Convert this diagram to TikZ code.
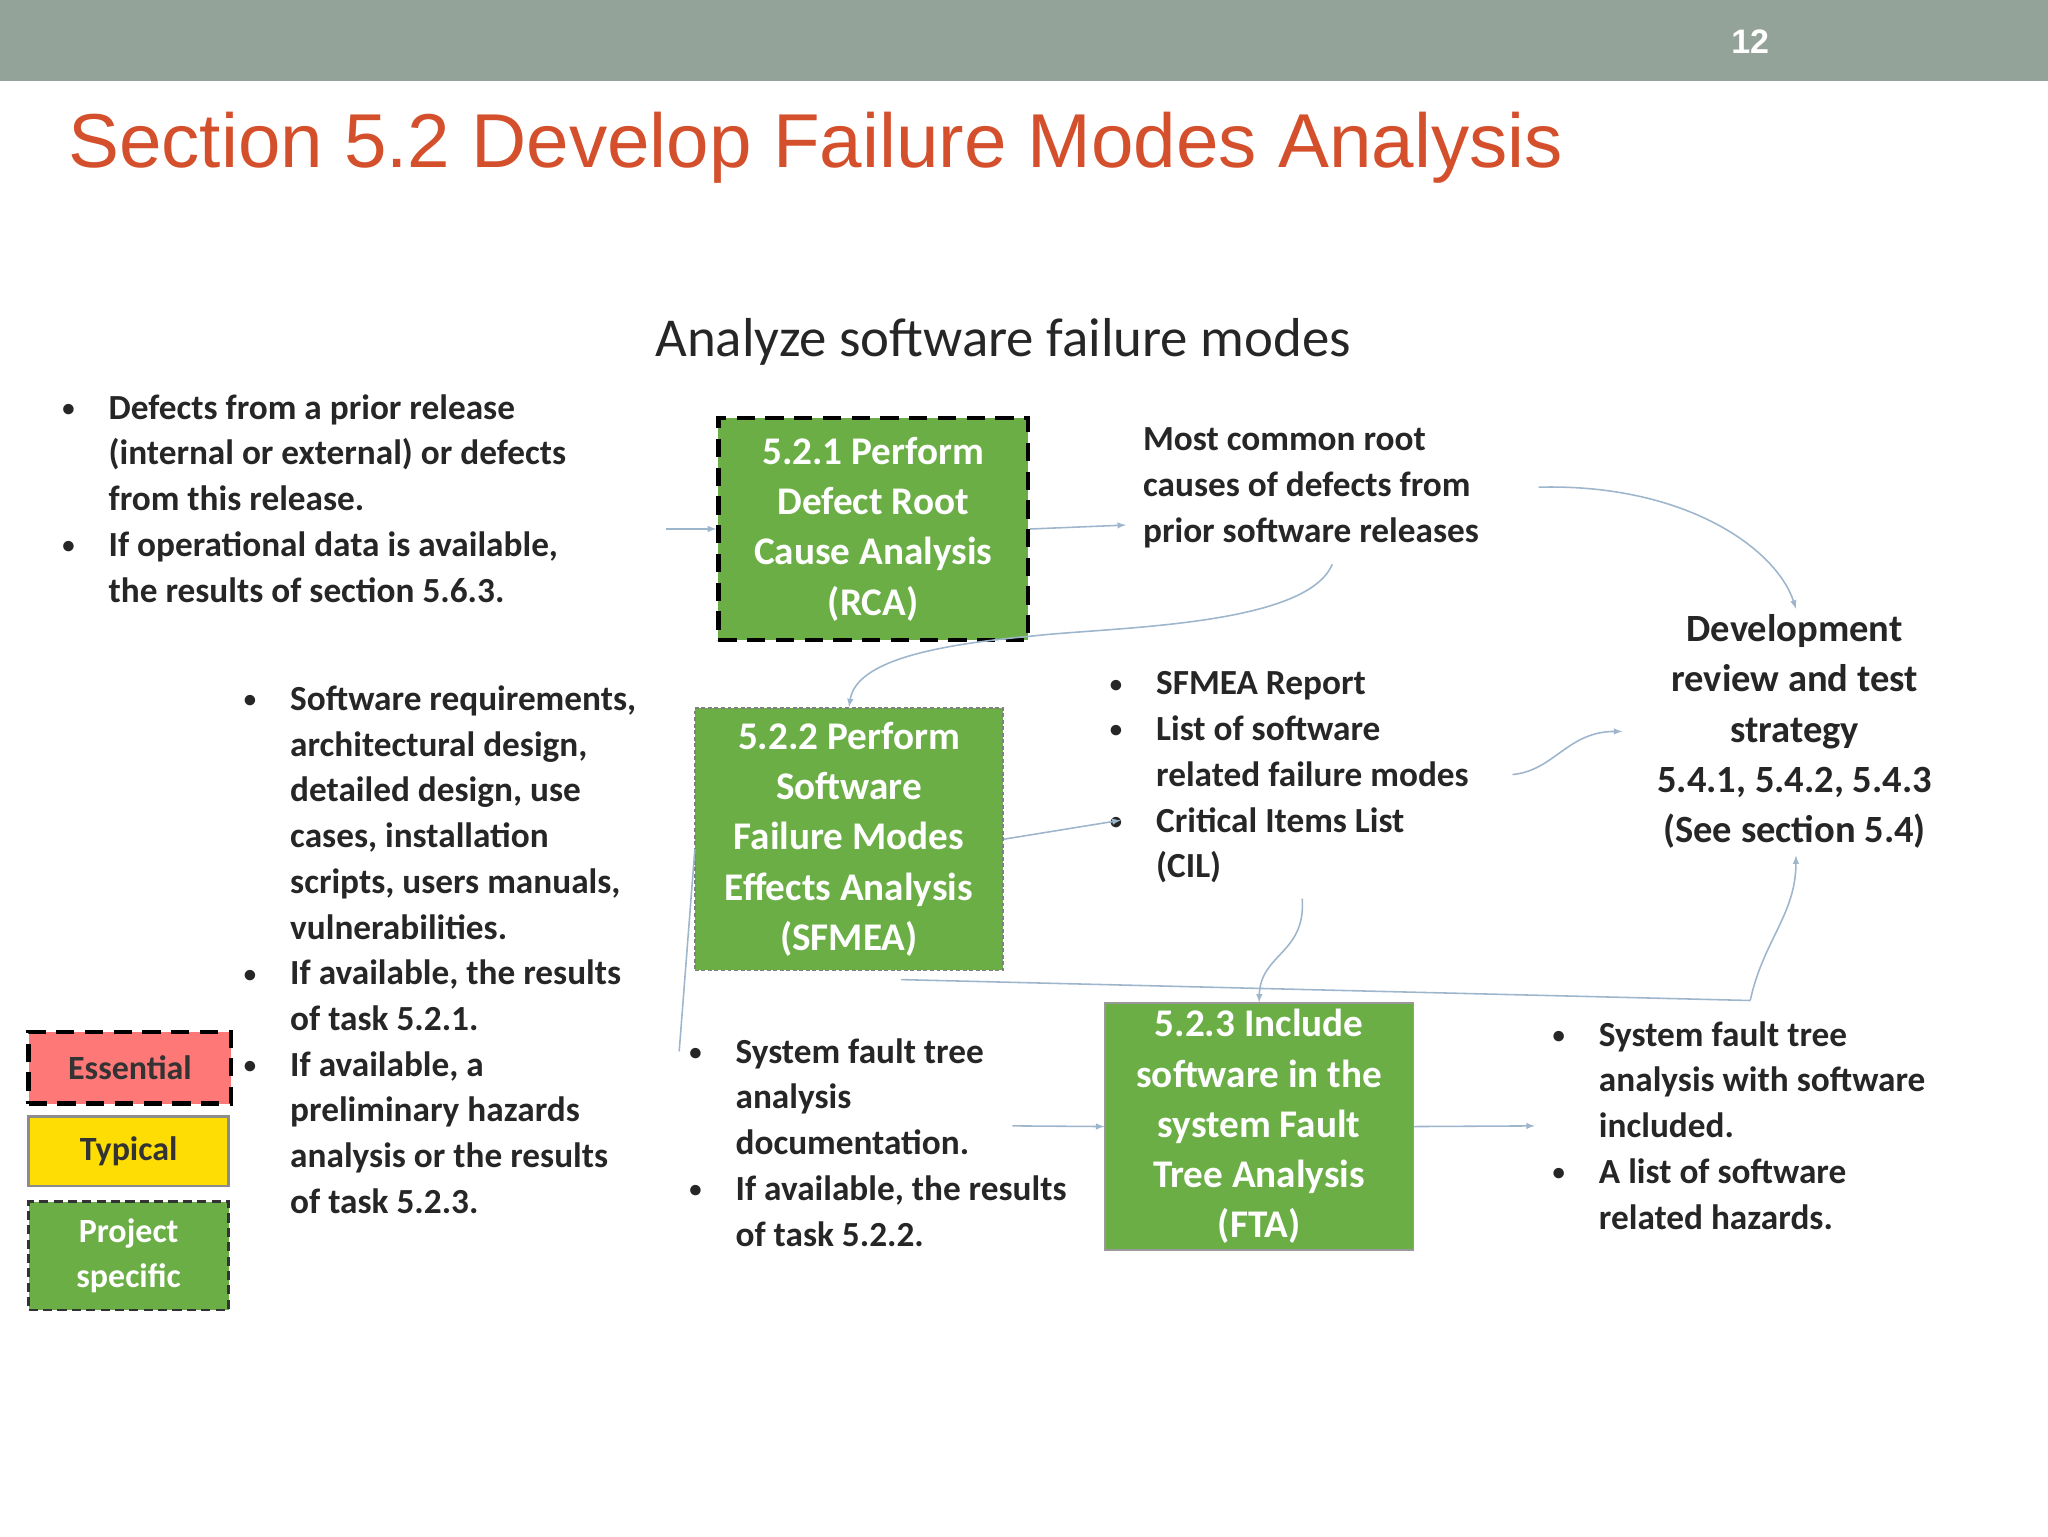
\documentclass[tikz,border=0pt]{standalone}
\usepackage{fontspec}
\setmainfont{Carlito}
\newfontfamily\arialf{Liberation Sans}
\newcommand{\bul}{\llap{\raisebox{2pt}{\scalebox{0.7}{\textbullet}}\hspace{26pt}}}
\begin{document}
\begin{tikzpicture}[x=1pt,y=-1pt,
  txt/.style={anchor=base west,align=left,inner sep=0pt,font=\fontsize{27}{35}\selectfont\bfseries,text=black!85},
  box/.style={fill=boxg,text=white,align=center,inner sep=0pt,font=\fontsize{30}{38.5}\selectfont\bfseries},
  ess/.style={draw=black,line width=3.5pt,dash pattern=on 14pt off 8pt},
  proj/.style={draw=black!80,line width=2pt,dash pattern=on 7pt off 4pt},
  arr/.style={draw=linec,line width=1.2pt,-latex}]
\definecolor{boxg}{HTML}{6AAE45}
\definecolor{linec}{HTML}{9DB6CC}
\definecolor{barg}{HTML}{94A39A}
\definecolor{titc}{HTML}{D4502C}
\useasboundingbox (0,0) rectangle (1568,1176);
\fill[barg] (0,0) rectangle (1568,62);
\node[text=white,font=\arialf\fontsize{26}{30}\selectfont\bfseries] (pg) at (1340,32) {12};
\node[anchor=base west,inner sep=0pt,text=titc,font=\arialf\fontsize{58.5}{64}\selectfont] (title) at (52,128) {Section 5.2 Develop Failure Modes Analysis};
\node[font=\fontsize{42}{46}\selectfont,text=black!85] (sub) at (768,262) {Analyze software failure modes};

\node[box,ess,minimum width=237,minimum height=170] (b1) at (668.5,405) {5.2.1 Perform\\Defect Root\\Cause Analysis\\(RCA)};
\node[box,draw=black!50,line width=1.2pt,dash pattern=on 3pt off 2pt,minimum width=236,minimum height=201] (b2) at (650,642.5) {5.2.2 Perform\\Software\\Failure Modes\\Effects Analysis\\(SFMEA)};
\node[box,draw=black!40,line width=1pt,minimum width=236,minimum height=189] (b3) at (964,862.5) {5.2.3 Include\\software in the\\system Fault\\Tree Analysis\\(FTA)};

\node[ess,fill=red!55!pink!80,minimum width=155,minimum height=55,inner sep=0pt,font=\fontsize{26}{30}\selectfont\bfseries,text=black!80] (l1) at (99.5,817.5) {Essential};
\node[draw=black!45,line width=2pt,fill=yellow!80!orange,minimum width=153,minimum height=53,inner sep=0pt,font=\fontsize{26}{30}\selectfont\bfseries,text=black!80] (l2) at (98.5,881.5) {Typical};
\node[proj,fill=boxg,minimum width=153,minimum height=83,inner sep=0pt,align=center,font=\fontsize{26}{35}\selectfont\bfseries,text=white] (l3) at (98.5,961.5) {Project\\specific};

\node[txt] (t1) at (83,461) {\bul Defects from a prior release\\(internal or external) or defects\\from this release.\\\bul If operational data is available,\\the results of section 5.6.3.};
\node[txt] (t2) at (222,929) {\bul Software requirements,\\architectural design,\\detailed design, use\\cases, installation\\scripts, users manuals,\\vulnerabilities.\\\bul If available, the results\\of task 5.2.1.\\\bul If available, a\\preliminary hazards\\analysis or the results\\of task 5.2.3.};
\node[txt] (t3) at (875,415) {Most common root\\causes of defects from\\prior software releases};
\node[txt] (t4) at (885,672) {\bul SFMEA Report\\\bul List of software\\related failure modes\\\bul Critical Items List\\(CIL)};
\node[align=center,inner sep=0pt,font=\fontsize{29.5}{38.5}\selectfont\bfseries,text=black!85] (dev) at (1374,560) {Development\\review and test\\strategy\\5.4.1, 5.4.2, 5.4.3\\(See section 5.4)};
\node[txt] (t5) at (563,954) {\bul System fault tree\\analysis\\documentation.\\\bul If available, the results\\of task 5.2.2.};
\node[txt] (t6) at (1224,941) {\bul System fault tree\\analysis with software\\included.\\\bul A list of software\\related hazards.};

\coordinate (c1) at (510,405);
\coordinate (c2) at (862,402);
\coordinate (c3) at (1178,373);
\coordinate (c4) at (1375,466);
\coordinate (c5) at (1020,432);
\coordinate (c6) at (858,628);
\coordinate (c7) at (1158,593);
\coordinate (c8) at (1242,560);
\coordinate (c9) at (997,688);
\coordinate (c10) at (690,750);
\coordinate (c11) at (1340,766);
\coordinate (c12) at (1375,655);
\coordinate (c13) at (532,650);
\coordinate (c14) at (520,805);
\coordinate (c15) at (775,862);
\coordinate (c16) at (1175,862);

\draw[arr] (c1) -- (b1.west);
\draw[arr] (b1.east) -- (c2);
\draw[arr] (c3) .. controls (1290,370) and (1360,420) .. (c4);
\draw[arr] (c5) .. controls (1000,480) and (850,480) .. (790,487) .. controls (700,495) and (655,510) .. (b2.north);
\draw[arr] (b2.east) -- (c6);
\draw[arr] (c7) .. controls (1190,590) and (1200,560) .. (c8);
\draw[arr] (c9) .. controls (1000,730) and (965,730) .. (b3.north);
\draw[draw=linec,line width=1.2pt] (c10) -- (c11);
\draw[arr] (c11) .. controls (1350,720) and (1375,700) .. (c12);
\draw[draw=linec,line width=1.2pt] (c13) -- (c14);
\draw[arr] (c15) -- (b3.west);
\draw[arr] (b3.east) -- (c16);
\end{tikzpicture}
\end{document}
